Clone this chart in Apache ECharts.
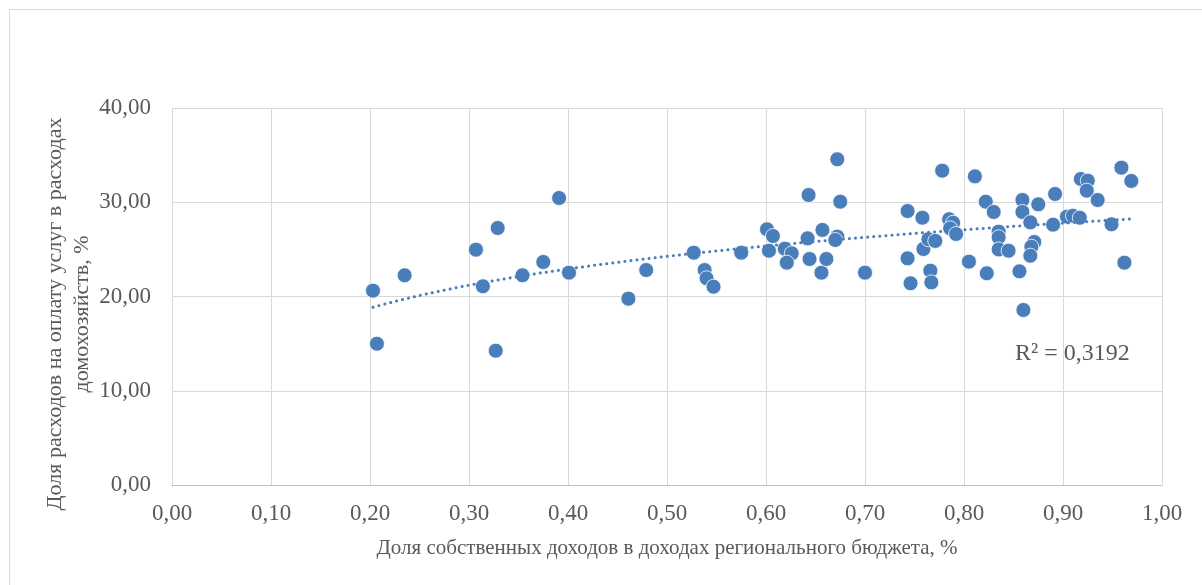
<!DOCTYPE html>
<html>
<head>
<meta charset="utf-8">
<script src="https://cdn.jsdelivr.net/npm/echarts@6/dist/echarts.min.js"></script>
<style>html,body{margin:0;padding:0;background:#fff;}#c{width:1202px;height:585px;}</style>
</head>
<body>
<div id="c"></div>
<script>
// Share of own revenues in regional budget revenues
const ownRevenueShare = [
  0.203, 0.207, 0.235, 0.307, 0.314, 0.329, 0.327, 0.354, 0.375, 0.391, 0.401,
  0.461, 0.479, 0.527, 0.538, 0.540, 0.547, 0.575,
  0.601, 0.607, 0.603, 0.619, 0.626, 0.621, 0.643, 0.642, 0.644, 0.657, 0.656, 0.661,
  0.672, 0.675, 0.672, 0.670, 0.700,
  0.743, 0.743, 0.746, 0.758, 0.759, 0.764, 0.771, 0.766, 0.767, 0.778, 0.785, 0.789,
  0.786, 0.792, 0.805, 0.811, 0.822, 0.830, 0.823, 0.835, 0.835, 0.835, 0.845,
  0.859, 0.859, 0.856, 0.860, 0.867, 0.875, 0.871, 0.868, 0.867, 0.892, 0.890,
  0.904, 0.910, 0.917, 0.918, 0.925, 0.924, 0.935, 0.949, 0.959, 0.969, 0.962
];
// Share of utility payments in household expenditures
const utilityShare = [
  20.62, 14.99, 22.25, 24.97, 21.08, 27.27, 14.25, 22.25, 23.66, 30.45, 22.53,
  19.77, 22.81, 24.65, 22.81, 21.93, 21.04, 24.65,
  27.13, 26.42, 24.86, 25.07, 24.58, 23.59, 30.77, 26.17, 23.98, 27.06, 22.53, 23.98,
  34.56, 30.06, 26.35, 26.00, 22.53,
  29.07, 24.05, 21.40, 28.36, 25.04, 26.07, 25.90, 22.74, 21.50, 33.35, 28.20, 27.83,
  27.23, 26.63, 23.70, 32.75, 30.06, 28.97, 22.46, 26.88, 26.28, 25.00, 24.86,
  30.24, 28.97, 22.67, 18.57, 27.87, 29.78, 25.78, 25.28, 24.33, 30.88, 27.62,
  28.47, 28.57, 28.36, 32.47, 32.29, 31.23, 30.24, 27.66, 33.67, 32.26, 23.59
];
const xTicks = [0, 0.1, 0.2, 0.3, 0.4, 0.5, 0.6, 0.7, 0.8, 0.9, 1.0];
const yTicks = [0, 10, 20, 30, 40];
const r2Label = 'R² = 0,3192';
const xTitle = 'Доля собственных доходов в доходах регионального бюджета, %';
const yTitle = 'Доля расходов на оплату услуг в расходах\nдомохозяйств, %';

// logarithmic trendline fitted to the data (least squares on ln x)
const pts = ownRevenueShare.map((x, i) => [x, utilityShare[i]]);
const n = pts.length;
let sl = 0, sy = 0, sll = 0, sly = 0;
pts.forEach(([x, y]) => { const l = Math.log(x); sl += l; sy += y; sll += l * l; sly += l * y; });
const a = (n * sly - sl * sy) / (n * sll - sl * sl);
const b = (sy - a * sl) / n;
const xmin = Math.min(...ownRevenueShare), xmax = Math.max(...ownRevenueShare);
const trend = [];
for (let k = 0; k <= 60; k++) {
  const x = xmin + (xmax - xmin) * k / 60;
  trend.push([x, a * Math.log(x) + b]);
}

const fmt = v => v.toFixed(2).replace('.', ',');
const font = '"Liberation Serif", "Times New Roman", serif';
const chart = echarts.init(document.getElementById('c'), null, {renderer: 'canvas'});
chart.setOption({
  animation: false,
  backgroundColor: '#fff',
  grid: {left: 172, right: 40, top: 108, bottom: 100, containLabel: false},
  xAxis: {
    type: 'value', min: xTicks[0], max: xTicks[xTicks.length - 1], interval: 0.1,
    name: xTitle, nameLocation: 'middle', nameGap: 53,
    nameTextStyle: {fontFamily: font, fontSize: 21, color: '#595959'},
    axisLine: {show: true, lineStyle: {color: '#bfbfbf', width: 1}},
    axisTick: {show: false},
    axisLabel: {formatter: fmt, fontFamily: font, fontSize: 23, color: '#595959', margin: 17},
    splitLine: {show: true, lineStyle: {color: '#d9d9d9', width: 1}}
  },
  yAxis: {
    type: 'value', min: yTicks[0], max: yTicks[yTicks.length - 1], interval: 10,
    axisLine: {show: false},
    axisTick: {show: false},
    axisLabel: {formatter: fmt, fontFamily: font, fontSize: 23, color: '#595959', margin: 21},
    splitLine: {show: true, lineStyle: {color: '#d9d9d9', width: 1}}
  },
  series: [
    {
      type: 'scatter', data: pts, symbolSize: 15,
      itemStyle: {color: '#4a7ebb', borderColor: '#ffffff', borderWidth: 0.8, opacity: 1},
      z: 3
    },
    {
      type: 'line', data: trend, showSymbol: false, smooth: false,
      lineStyle: {color: '#4a7ebb', width: 3, type: [0.1, 6], cap: 'round'},
      z: 4, silent: true
    }
  ],
  graphic: [
    {type: 'rect', shape: {x: 9.5, y: 9.5, width: 1220, height: 600},
     style: {fill: null, stroke: '#d9d9d9', lineWidth: 1}, silent: true},
    {type: 'text', x: 68.5, y: 314, rotation: Math.PI / 2,
     style: {text: yTitle, font: '22px ' + font, fill: '#595959', align: 'center',
             verticalAlign: 'middle', lineHeight: 27}},
    {type: 'text', x: 1015, y: 354,
     style: {text: r2Label, font: '24px ' + font, fill: '#595959', verticalAlign: 'middle'}}
  ]
});
</script>
</body>
</html>
